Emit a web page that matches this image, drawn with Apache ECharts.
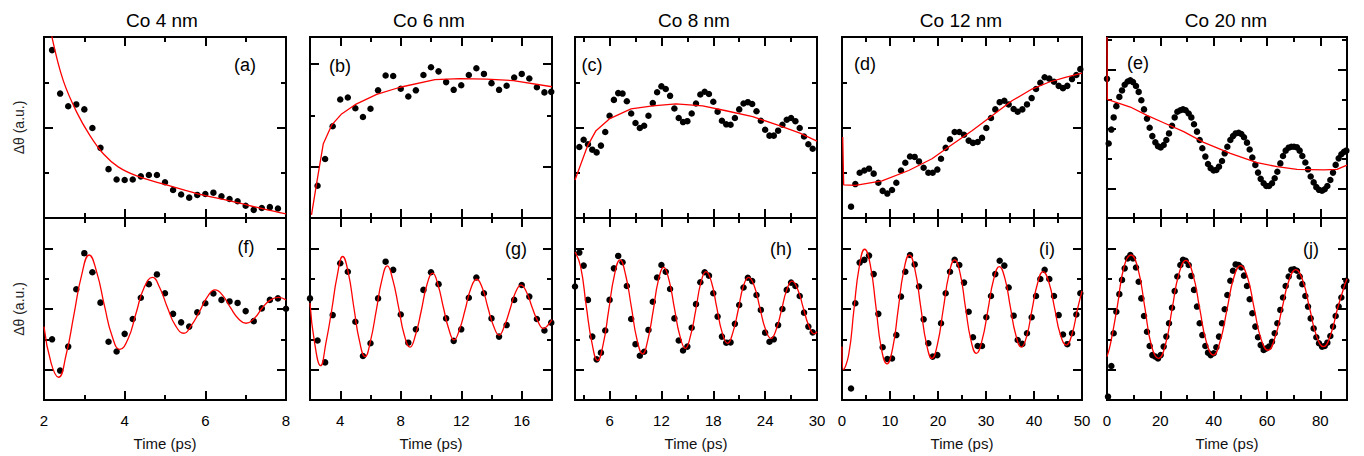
<!DOCTYPE html>
<html><head><meta charset="utf-8">
<script src="https://cdn.jsdelivr.net/npm/echarts@6/dist/echarts.min.js"></script>
<style>html,body{margin:0;padding:0;background:#fff}#c{width:1364px;height:456px}</style>
</head><body><div id="c"></div><script>
// ---------------- DATA ----------------
const titles = ['Co 4 nm', 'Co 6 nm', 'Co 8 nm', 'Co 12 nm', 'Co 20 nm'];
const topLetters = ['(a)', '(b)', '(c)', '(d)', '(e)'];
const bottomLetters = ['(f)', '(g)', '(h)', '(i)', '(j)'];
const yName = 'Δθ (a.u.)';
const xName = 'Time (ps)';

const xRanges = [[2, 8], [2, 18], [2, 30], [0, 50], [0, 90]];
const xMajorTicks = [[2, 4, 6, 8], [4, 8, 12, 16], [6, 12, 18, 24, 30], [0, 10, 20, 30, 40, 50], [0, 20, 40, 60, 80]];
const xMinorTicks = [[3, 5, 7], [2, 6, 10, 14, 18], [3, 9, 15, 21, 27], [5, 15, 25, 35, 45], [10, 30, 50, 70, 90]];
const xTickLabels = [[2, 4, 6, 8], [4, 8, 12, 16], [6, 12, 18, 24, 30], [0, 10, 20, 30, 40, 50], [0, 20, 40, 60, 80]];

const topYMax = [4, 3.53, 4, 4, 6.1];
const topYMajor = [[2], [1, 3], [2], [2], [1, 3, 5]];
const topYMinor = [[1, 3], [2], [1, 3], [1, 3], [2, 4, 6]];
const bottomYMax = 6;
const bottomYMajor = [1, 3, 5];
const bottomYMinor = [2, 4];

// (a) Co 4 nm, top
const dotsA = [[2.2,3.71],[2.4,2.75],[2.6,2.47],[2.8,2.51],[3.0,2.40],[3.2,1.99],[3.4,1.55],[3.6,1.08],[3.8,0.85],[4.0,0.84],[4.2,0.85],[4.4,0.92],[4.6,0.95],[4.8,0.95],[5.0,0.79],[5.2,0.62],[5.4,0.52],[5.6,0.45],[5.8,0.51],[6.0,0.53],[6.2,0.56],[6.4,0.48],[6.6,0.42],[6.8,0.37],[7.0,0.27],[7.2,0.18],[7.4,0.22],[7.6,0.24],[7.8,0.21]];
const fitA = [[2.1,4.6],[2.21,3.95],[2.48,3.03],[2.81,2.34],[3.14,1.82],[3.47,1.42],[3.84,1.13],[4.3,0.93],[4.96,0.75],[5.79,0.54],[6.61,0.38],[7.44,0.2],[8.0,0.09]];
// (b) Co 6 nm, top
const dotsB = [[2.5,0.63],[3.0,1.15],[3.5,1.79],[4.0,2.31],[4.5,2.35],[5.0,2.14],[5.5,1.97],[6.0,2.13],[6.5,2.49],[7.0,2.78],[7.5,2.77],[8.0,2.52],[8.5,2.37],[9.0,2.49],[9.5,2.79],[10.0,2.94],[10.5,2.86],[11.0,2.65],[11.5,2.50],[12.0,2.59],[12.5,2.79],[13.0,2.92],[13.5,2.81],[14.0,2.63],[14.5,2.50],[15.0,2.58],[15.5,2.74],[16.0,2.81],[16.5,2.72],[17.0,2.55],[17.5,2.45],[17.95,2.46]];
const fitB = [[2.1,0.06],[2.44,0.68],[2.88,1.45],[3.43,1.81],[4.09,2.03],[4.98,2.21],[6.41,2.41],[7.95,2.55],[10.26,2.70],[11.92,2.72],[13.68,2.71],[15.44,2.68],[18.0,2.56]];
// (c) Co 8 nm, top
const dotsC = [[2.5,1.57],[3.0,1.73],[3.5,1.63],[4.0,1.51],[4.5,1.45],[5.0,1.60],[5.5,1.90],[6.0,2.26],[6.5,2.61],[7.0,2.76],[7.5,2.75],[8.0,2.58],[8.5,2.31],[9.0,2.10],[9.5,1.99],[10.0,2.04],[10.5,2.26],[11.0,2.54],[11.5,2.78],[12.0,2.91],[12.5,2.85],[13.0,2.70],[13.5,2.42],[14.0,2.21],[14.5,2.12],[15.0,2.14],[15.5,2.31],[16.0,2.53],[16.5,2.73],[17.0,2.79],[17.5,2.74],[18.0,2.57],[18.5,2.35],[19.0,2.15],[19.5,2.07],[20.0,2.06],[20.5,2.21],[21.0,2.40],[21.5,2.53],[22.0,2.56],[22.5,2.52],[23.0,2.36],[23.5,2.15],[24.0,1.95],[24.5,1.82],[25.0,1.82],[25.5,1.93],[26.0,2.06],[26.5,2.17],[27.0,2.21],[27.5,2.14],[28.0,1.99],[28.5,1.80],[29.0,1.63],[29.5,1.53]];
const fitC = [[2.0,0.84],[2.69,1.20],[3.47,1.60],[4.43,1.93],[5.97,2.19],[8.48,2.41],[10.99,2.48],[13.69,2.52],[16.77,2.48],[19.47,2.37],[22.56,2.24],[25.64,2.04],[27.95,1.88],[30.0,1.70]];
// (d) Co 12 nm, top
const dotsD = [[1.88,0.25],[2.78,0.75],[3.68,1.0],[4.65,1.05],[5.63,1.09],[6.6,0.98],[7.57,0.78],[8.47,0.60],[9.44,0.54],[10.42,0.62],[11.32,0.78],[12.29,1.05],[13.19,1.22],[14.17,1.36],[15.14,1.35],[16.04,1.25],[17.01,1.11],[17.99,1.0],[18.89,1.0],[19.86,1.07],[20.63,1.31],[21.6,1.55],[22.5,1.74],[23.47,1.90],[24.44,1.90],[25.42,1.84],[26.39,1.71],[27.29,1.66],[28.26,1.68],[29.17,1.77],[30.07,1.99],[31.04,2.21],[31.94,2.40],[32.85,2.56],[33.82,2.59],[34.72,2.51],[35.76,2.41],[36.6,2.35],[37.57,2.40],[38.54,2.51],[39.51,2.65],[40.42,2.85],[41.32,2.99],[42.22,3.11],[43.19,3.08],[44.17,3.01],[45.14,2.92],[46.04,2.87],[46.94,2.92],[47.92,3.07],[48.82,3.16],[49.65,3.29]];
const fitD = [[0.15,1.79],[0.35,0.73],[2.8,0.72],[8.33,0.82],[13.89,1.05],[18.75,1.31],[22.2,1.57],[27.08,1.93],[31.25,2.26],[35.4,2.59],[39.58,2.85],[43.06,3.0],[46.53,3.11],[50.0,3.2]];
// (e) Co 20 nm, top
const dotsE = [[0,4.69],[0.63,2.51],[1.63,2.98],[2.5,3.39],[3.5,3.77],[4.63,4.08],[5.63,4.30],[6.63,4.49],[7.75,4.60],[8.75,4.64],[9.75,4.58],[10.88,4.45],[11.88,4.25],[12.88,3.97],[13.88,3.66],[15.0,3.35],[16.0,3.04],[17.0,2.76],[18.13,2.55],[19.13,2.42],[20.13,2.38],[21.25,2.46],[22.25,2.63],[23.25,2.85],[24.38,3.11],[25.38,3.39],[26.38,3.58],[27.5,3.63],[28.5,3.66],[29.5,3.63],[30.63,3.52],[31.63,3.39],[32.63,3.16],[33.75,2.91],[34.75,2.63],[35.75,2.35],[36.88,2.07],[37.88,1.82],[38.88,1.68],[40.0,1.60],[41.0,1.62],[42.0,1.73],[43.13,1.92],[44.13,2.18],[45.13,2.40],[46.25,2.63],[47.25,2.76],[48.25,2.85],[49.38,2.87],[50.38,2.83],[51.38,2.72],[52.5,2.54],[53.5,2.31],[54.5,2.04],[55.63,1.79],[56.63,1.53],[57.63,1.32],[58.75,1.17],[59.75,1.08],[60.75,1.08],[61.88,1.17],[62.88,1.34],[63.88,1.56],[65.0,1.84],[66.0,2.09],[67.0,2.27],[68.13,2.37],[69.13,2.40],[70.13,2.40],[71.25,2.38],[72.25,2.27],[73.25,2.09],[74.38,1.87],[75.38,1.64],[76.38,1.40],[77.5,1.20],[78.5,1.04],[79.5,0.95],[80.63,0.92],[81.63,0.97],[82.63,1.08],[83.75,1.28],[84.75,1.53],[85.75,1.79],[86.88,2.01],[87.88,2.15],[88.88,2.23],[89.75,2.27]];
const fitE = [[0,6.1],[0.1,4.0],[8.75,3.74],[15,3.46],[21.25,3.21],[28.75,2.91],[36.25,2.55],[46.25,2.18],[56.25,1.87],[63.75,1.73],[71.25,1.64],[81.25,1.62],[86.25,1.64],[90,1.78]];
// (f) Co 4 nm, bottom
const dotsF = [[2.2,2.0],[2.4,0.97],[2.6,1.76],[2.8,3.65],[3.0,4.84],[3.2,4.21],[3.4,3.21],[3.6,1.92],[3.8,1.60],[4.0,2.18],[4.2,2.67],[4.4,3.37],[4.6,3.82],[4.8,4.14],[5.0,3.52],[5.2,2.84],[5.4,2.56],[5.6,2.42],[5.8,2.89],[6.0,3.19],[6.2,3.51],[6.4,3.30],[6.6,3.25],[6.8,3.20],[7.0,2.93],[7.2,2.60],[7.4,3.02],[7.6,3.30],[7.8,3.35],[8.0,3.01]];
const fitF = [[2.0,2.42],[2.18,1.2],[2.36,0.75],[2.55,1.5],[2.74,2.8],[2.93,4.1],[3.12,4.78],[3.31,4.2],[3.5,3.1],[3.69,2.1],[3.88,1.67],[4.08,2.0],[4.28,2.85],[4.48,3.7],[4.69,4.04],[4.87,3.7],[5.06,3.05],[5.26,2.45],[5.47,2.2],[5.65,2.45],[5.85,2.9],[6.05,3.4],[6.24,3.63],[6.43,3.45],[6.62,3.05],[6.82,2.68],[7.01,2.53],[7.22,2.7],[7.42,3.05],[7.62,3.3],[7.81,3.38],[8.0,3.3]];
// (g) Co 6 nm, bottom
const dotsG = [[2.0,3.35],[2.5,1.96],[3.0,1.24],[3.5,2.80],[4.0,4.51],[4.5,4.23],[5.0,2.58],[5.5,1.45],[6.0,1.87],[6.5,3.35],[7.0,4.56],[7.5,4.29],[8.0,2.82],[8.5,1.89],[9.0,2.33],[9.5,3.63],[10.0,4.21],[10.5,3.82],[11.0,2.69],[11.5,1.95],[12.0,2.33],[12.5,3.37],[13.0,4.04],[13.5,3.52],[14.0,2.69],[14.5,2.09],[15.0,2.47],[15.5,3.30],[16.0,3.79],[16.5,3.41],[17.0,2.67],[17.5,2.29],[17.95,2.55]];
const fitG = [[2.0,3.2],[2.3,1.9],[2.7,1.13],[3.06,1.9],[3.43,2.95],[3.8,4.1],[4.16,4.73],[4.53,4.2],[4.9,3.05],[5.27,1.95],[5.64,1.43],[6.0,1.95],[6.38,2.95],[6.75,3.95],[7.11,4.42],[7.48,3.95],[7.86,3.05],[8.23,2.15],[8.61,1.74],[8.98,2.15],[9.36,2.95],[9.73,3.8],[10.11,4.18],[10.46,3.8],[10.82,3.05],[11.17,2.35],[11.52,1.98],[11.9,2.35],[12.27,3.0],[12.65,3.7],[13.02,3.98],[13.39,3.7],[13.76,3.05],[14.13,2.45],[14.5,2.14],[14.86,2.45],[15.23,3.0],[15.59,3.55],[15.95,3.79],[16.32,3.55],[16.69,3.05],[17.06,2.6],[17.43,2.36],[17.7,2.45],[18.0,2.65]];
// (h) Co 8 nm, bottom
const dotsH = [[2.0,3.74],[2.5,4.86],[3.0,4.43],[3.5,3.30],[4.0,2.09],[4.5,1.34],[5.0,1.56],[5.5,2.29],[6.0,3.30],[6.5,4.34],[7.0,4.75],[7.5,4.54],[8.0,3.76],[8.5,2.67],[9.0,1.84],[9.5,1.46],[10.0,1.59],[10.5,2.31],[11.0,3.24],[11.5,4.04],[12.0,4.45],[12.5,4.23],[13.0,3.66],[13.5,2.69],[14.0,1.96],[14.5,1.63],[15.0,1.76],[15.5,2.38],[16.0,3.16],[16.5,3.88],[17.0,4.21],[17.5,4.10],[18.0,3.52],[18.5,2.75],[19.0,2.09],[19.5,1.89],[20.0,1.90],[20.5,2.51],[21.0,3.13],[21.5,3.71],[22.0,4.03],[22.5,3.92],[23.0,3.46],[23.5,2.97],[24.0,2.22],[24.5,1.92],[25.0,2.0],[25.5,2.47],[26.0,3.0],[26.5,3.63],[27.0,3.87],[27.5,3.76],[28.0,3.43],[28.5,2.88],[29.0,2.42],[29.5,2.23]];
const fitH = [[2.0,4.88],[2.65,4.4],[3.3,3.1],[3.95,1.9],[4.62,1.30],[5.27,1.85],[5.9,2.96],[6.55,4.1],[7.21,4.62],[7.86,4.12],[8.52,3.07],[9.17,2.0],[9.83,1.52],[10.44,2.0],[11.05,2.95],[11.65,3.95],[12.26,4.37],[12.88,3.95],[13.5,3.03],[14.13,2.12],[14.77,1.70],[15.37,2.12],[15.97,2.96],[16.57,3.88],[17.16,4.23],[17.78,3.9],[18.4,3.05],[19.03,2.22],[19.66,1.87],[20.26,2.22],[20.87,2.95],[21.48,3.75],[22.09,4.04],[22.74,3.76],[23.4,3.03],[24.04,2.33],[24.68,2.03],[25.29,2.33],[25.9,2.97],[26.5,3.63],[27.11,3.92],[27.75,3.66],[28.4,3.05],[29.05,2.45],[29.69,2.18],[30.0,2.25]];
// (i) Co 12 nm, bottom
const dotsI = [[1.88,0.38],[2.78,3.19],[3.68,4.53],[4.65,4.62],[5.63,4.76],[6.6,4.15],[7.57,2.84],[8.47,1.74],[9.44,1.35],[10.42,1.37],[11.32,2.14],[12.29,3.41],[13.19,4.23],[14.17,4.78],[15.14,4.47],[16.04,3.74],[17.01,2.66],[17.99,1.87],[18.89,1.43],[19.86,1.48],[20.63,2.53],[21.6,3.52],[22.5,4.23],[23.47,4.62],[24.44,4.45],[25.42,3.87],[26.39,2.91],[27.29,2.07],[28.26,1.78],[29.17,1.78],[30.07,2.73],[31.04,3.43],[31.94,4.15],[32.85,4.59],[33.82,4.43],[34.72,3.71],[35.76,2.78],[36.6,1.98],[37.57,1.85],[38.54,2.20],[39.51,2.73],[40.42,3.43],[41.32,3.99],[42.22,4.29],[43.19,3.99],[44.17,3.43],[45.14,2.80],[46.04,2.16],[46.94,1.84],[47.92,2.20],[48.82,2.82],[49.65,3.52]];
const fitI = [[0,1.76],[0.3,1.0],[1.4,1.5],[2.5,3.0],[3.6,4.4],[4.72,4.97],[5.9,4.45],[7.05,3.1],[8.2,1.7],[9.38,1.19],[10.55,1.7],[11.7,2.98],[12.85,4.25],[14.03,4.78],[15.2,4.3],[16.4,3.07],[17.6,1.85],[18.75,1.37],[19.9,1.85],[21.1,3.0],[22.3,4.15],[23.47,4.62],[24.6,4.18],[25.7,3.08],[26.85,1.98],[27.99,1.54],[29.2,1.98],[30.4,2.97],[31.6,3.98],[32.78,4.40],[33.95,4.0],[35.07,3.07],[36.2,2.15],[37.36,1.74],[38.5,2.12],[39.6,2.99],[40.75,3.85],[41.88,4.23],[43.1,3.88],[44.3,3.02],[45.5,2.15],[46.74,1.81],[47.9,2.16],[49.07,3.0],[50.0,3.6]];
// (j) Co 20 nm, bottom
const dotsJ = [[0.38,0.11],[1.63,1.12],[2.5,2.20],[3.5,2.91],[4.63,3.49],[5.63,3.96],[6.63,4.34],[7.75,4.67],[8.75,4.78],[9.75,4.67],[10.88,4.37],[11.88,3.90],[12.88,3.35],[13.88,2.77],[15.0,2.25],[16.0,1.78],[17.0,1.48],[18.13,1.43],[19.13,1.37],[20.13,1.48],[21.25,1.76],[22.25,2.09],[23.25,2.53],[24.38,3.04],[25.38,3.59],[26.38,4.07],[27.5,4.45],[28.5,4.62],[29.5,4.59],[30.63,4.45],[31.63,4.09],[32.63,3.63],[33.75,3.08],[34.75,2.53],[35.75,2.14],[36.88,1.78],[37.88,1.56],[38.88,1.48],[40.0,1.54],[41.0,1.74],[42.0,2.09],[43.13,2.53],[44.13,2.99],[45.13,3.46],[46.25,3.93],[47.25,4.26],[48.25,4.47],[49.38,4.45],[50.38,4.37],[51.38,4.10],[52.5,3.76],[53.5,3.32],[54.5,2.86],[55.63,2.42],[56.63,2.07],[57.63,1.81],[58.75,1.65],[59.75,1.70],[60.75,1.76],[61.88,1.92],[62.88,2.20],[63.88,2.53],[65.0,2.97],[66.0,3.38],[67.0,3.76],[68.13,4.07],[69.13,4.29],[70.13,4.31],[71.25,4.26],[72.25,4.07],[73.25,3.82],[74.38,3.43],[75.38,3.08],[76.38,2.69],[77.5,2.36],[78.5,2.07],[79.5,1.87],[80.63,1.76],[81.63,1.78],[82.63,1.89],[83.75,2.11],[84.75,2.42],[85.75,2.77],[86.88,3.08],[87.88,3.38],[88.88,3.74],[89.75,3.93]];
const fitJ = [[0,1.43],[1.3,1.85],[3.85,3.08],[6.4,4.4],[9.0,4.78],[11.6,4.33],[14.15,3.07],[16.7,1.78],[19.3,1.37],[21.9,1.82],[24.45,3.02],[27.0,4.17],[29.6,4.6],[32.2,4.15],[34.75,3.02],[37.3,1.9],[39.9,1.48],[42.4,1.93],[45.0,2.98],[47.5,4.02],[50.1,4.43],[52.7,4.04],[55.2,3.02],[57.8,2.0],[60.4,1.64],[63.0,2.06],[65.6,3.0],[68.2,3.93],[70.8,4.3],[73.4,3.94],[76.0,3.02],[78.6,2.1],[81.2,1.76],[83.8,2.13],[86.4,3.0],[89.0,3.75],[90.0,4.0]];

const topDots = [dotsA, dotsB, dotsC, dotsD, dotsE];
const topFits = [fitA, fitB, fitC, fitD, fitE];
const bottomDots = [dotsF, dotsG, dotsH, dotsI, dotsJ];
const bottomFits = [fitF, fitG, fitH, fitI, fitJ];

// ---------------- LAYOUT ----------------
const panelLeft = [44, 310, 575, 842, 1107];
const panelRight = [286, 552, 817, 1082, 1347];
const rowTop = [37, 218];
const rowBottom = [218, 400];
const FONT = '"Liberation Sans", Arial, Helvetica, sans-serif';
const topSmooth = [0.3, false, false, false, false];

const grids = [], xAxes = [], yAxes = [], series = [], graphics = [];
const lineSty = { color: '#000', width: 2 };

function addPanel(col, row) {
  const gi = grids.length;
  grids.push({ left: panelLeft[col], top: rowTop[row], width: panelRight[col] - panelLeft[col], height: rowBottom[row] - rowTop[row] });
  const xr = xRanges[col];
  const baseX = { gridIndex: gi, type: 'value', min: xr[0], max: xr[1], splitLine: { show: false },
    axisLine: { show: true, onZero: false, lineStyle: lineSty } };
  const isBottom = row === 1;
  const labels = xTickLabels[col];
  xAxes.push(Object.assign({}, baseX, { position: 'bottom',
    axisTick: { show: true, inside: true, length: 9, customValues: xMajorTicks[col], lineStyle: lineSty },
    axisLabel: { show: isBottom, customValues: labels, margin: 13, fontSize: 15, color: '#000', fontFamily: FONT },
    name: isBottom ? xName : '', nameLocation: 'middle', nameGap: 36,
    nameTextStyle: { fontSize: 15, color: '#111', fontFamily: FONT } }));
  xAxes.push(Object.assign({}, baseX, { position: 'bottom',
    axisTick: { show: true, inside: true, length: 5, customValues: xMinorTicks[col], lineStyle: lineSty },
    axisLabel: { show: false } }));
  xAxes.push(Object.assign({}, baseX, { position: 'top',
    axisTick: { show: true, inside: true, length: 9, customValues: xMajorTicks[col], lineStyle: lineSty },
    axisLabel: { show: false } }));
  xAxes.push(Object.assign({}, baseX, { position: 'top',
    axisTick: { show: true, inside: true, length: 5, customValues: xMinorTicks[col], lineStyle: lineSty },
    axisLabel: { show: false } }));

  const ymax = isBottom ? bottomYMax : topYMax[col];
  const ymaj = isBottom ? bottomYMajor : topYMajor[col];
  const ymin = isBottom ? bottomYMinor : topYMinor[col];
  const baseY = { gridIndex: gi, type: 'value', min: 0, max: ymax, splitLine: { show: false },
    axisLine: { show: true, onZero: false, lineStyle: lineSty }, axisLabel: { show: false } };
  yAxes.push(Object.assign({}, baseY, { position: 'left',
    axisTick: { show: true, inside: true, length: 9, customValues: ymaj, lineStyle: lineSty },
    name: col === 0 ? yName : '', nameLocation: 'middle', nameRotate: 90, nameGap: 18,
    nameTextStyle: { fontSize: 14, color: '#222', fontFamily: FONT } }));
  yAxes.push(Object.assign({}, baseY, { position: 'left',
    axisTick: { show: true, inside: true, length: 5, customValues: ymin, lineStyle: lineSty } }));
  yAxes.push(Object.assign({}, baseY, { position: 'right',
    axisTick: { show: true, inside: true, length: 9, customValues: ymaj, lineStyle: lineSty } }));
  yAxes.push(Object.assign({}, baseY, { position: 'right',
    axisTick: { show: true, inside: true, length: 5, customValues: ymin, lineStyle: lineSty } }));

  const dots = isBottom ? bottomDots[col] : topDots[col];
  const fit = isBottom ? bottomFits[col] : topFits[col];
  series.push({ type: 'scatter', xAxisIndex: 4 * gi, yAxisIndex: 4 * gi, data: dots, symbolSize: 6.5,
    itemStyle: { color: '#000', opacity: 1 }, silent: true, z: 2 });
  series.push({ type: 'line', xAxisIndex: 4 * gi, yAxisIndex: 4 * gi, data: fit, showSymbol: false,
    smooth: isBottom ? 0.5 : topSmooth[col], clip: true, silent: true,
    lineStyle: { color: '#f00', width: 1.3 }, z: 3 });
}

for (let c = 0; c < 5; c++) { addPanel(c, 0); addPanel(c, 1); }

const titleX = [162, 429, 694, 961, 1226];
const topLetterPos = [[245, 65], [340, 66], [592, 65], [865, 64], [1138, 63]];
const bottomLetterPos = [[246, 247], [516, 249], [781, 249], [1047, 249], [1311, 249]];
for (let c = 0; c < 5; c++) {
  graphics.push({ type: 'text', x: titleX[c], y: 20, style: { text: titles[c], fill: '#000', font: '19px ' + FONT, textAlign: 'center', textVerticalAlign: 'middle' } });
  graphics.push({ type: 'text', x: topLetterPos[c][0], y: topLetterPos[c][1], style: { text: topLetters[c], fill: '#000', font: '18px ' + FONT, textAlign: 'center', textVerticalAlign: 'middle' } });
  graphics.push({ type: 'text', x: bottomLetterPos[c][0], y: bottomLetterPos[c][1], style: { text: bottomLetters[c], fill: '#000', font: '18px ' + FONT, textAlign: 'center', textVerticalAlign: 'middle' } });
}

const chart = echarts.init(document.getElementById('c'), null, { renderer: 'svg' });
chart.setOption({
  animation: false,
  backgroundColor: '#fff',
  textStyle: { fontFamily: FONT },
  grid: grids, xAxis: xAxes, yAxis: yAxes, series: series, graphic: graphics
});
</script></body></html>
